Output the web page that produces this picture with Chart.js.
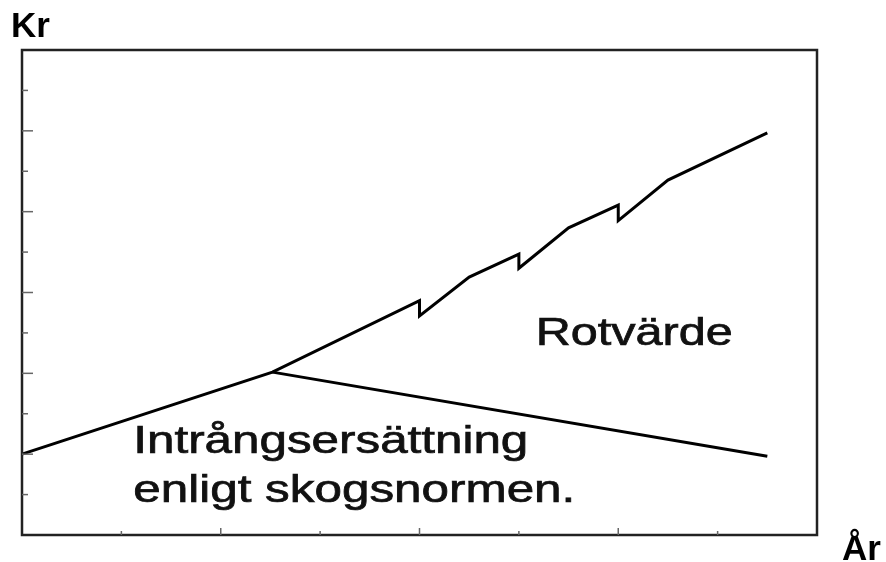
<!DOCTYPE html>
<html>
<head>
<meta charset="utf-8">
<script src="https://cdn.jsdelivr.net/npm/chart.js@4"></script>
<style>
  html, body { margin: 0; padding: 0; background: #fff; }
  #wrap { width: 886px; height: 562px; }
</style>
</head>
<body>
<div id="wrap"><canvas id="chart"></canvas></div>
<script>
// Rotvärde (upper line, with saw-tooth drops)
const rotX = [0, 2.52, 4.0, 4.0, 4.5, 5.0, 5.0, 5.5, 6.0, 6.0, 6.5, 7.5];
const rotY = [2.0, 4.03, 5.8, 5.42, 6.38, 6.95, 6.6, 7.6, 8.16, 7.78, 8.78, 9.95];
// Intrångsersättning (lower branch)
const intrX = [2.52, 7.5];
const intrY = [4.03, 1.95];

const xMax = 8;
const yMax = 12;

const labels = [
  { lines: ['Rotvärde'], x: 5.17, y: 4.7, width: 197 },
  { lines: ['Intrångsersättning', 'enligt skogsnormen.'], x: 1.12, y: 2.03, width: [395, 442] }
];

function toPoints(xs, ys) {
  return xs.map((x, i) => ({ x: x, y: ys[i] }));
}

const frame = {
  id: 'frame',
  afterDatasetsDraw(chart) {
    const ctx = chart.ctx;
    const a = chart.chartArea;
    const xs = chart.scales.x;
    const ys = chart.scales.y;
    ctx.save();
    ctx.strokeStyle = '#222';
    ctx.lineWidth = 2.5;
    ctx.strokeRect(a.left, a.top, a.right - a.left, a.bottom - a.top);

    // inward ticks
    ctx.lineWidth = 1.5;
    ctx.strokeStyle = '#666';
    for (let i = 1; i < yMax; i++) {
      const py = ys.getPixelForValue(i);
      const len = i % 2 === 0 ? 11 : 6;
      ctx.beginPath();
      ctx.moveTo(a.left, py);
      ctx.lineTo(a.left + len, py);
      ctx.stroke();
    }
    for (let i = 1; i < xMax; i++) {
      const px = xs.getPixelForValue(i);
      const len = i % 2 === 0 ? 7 : 4;
      ctx.beginPath();
      ctx.moveTo(px, a.bottom);
      ctx.lineTo(px, a.bottom - len);
      ctx.stroke();
    }

    // in-chart labels, stretched horizontally like the original
    ctx.fillStyle = '#111';
    ctx.strokeStyle = '#111';
    ctx.lineWidth = 0.7;
    ctx.font = '38px "Liberation Sans", Arial, sans-serif';
    ctx.textBaseline = 'alphabetic';
    ctx.textAlign = 'left';
    labels.forEach(lb => {
      const px = xs.getPixelForValue(lb.x);
      const py = ys.getPixelForValue(lb.y);
      lb.lines.forEach((t, k) => {
        const w = Array.isArray(lb.width) ? lb.width[k] : lb.width;
        const sx = w / ctx.measureText(t).width;
        ctx.save();
        ctx.translate(px, py + k * 49);
        ctx.scale(sx, 1);
        ctx.fillText(t, 0, 0);
        ctx.strokeText(t, 0, 0);
        ctx.restore();
      });
    });

    // axis titles
    ctx.fillStyle = '#000';
    ctx.font = 'bold 35px "Liberation Sans", Arial, sans-serif';
    ctx.fillText('Kr', 11, a.top - 13);
    ctx.fillText('År', a.right + 25, a.bottom + 25);
    ctx.restore();
  }
};

new Chart(document.getElementById('chart'), {
  type: 'scatter',
  data: {
    datasets: [
      {
        label: 'Rotvärde',
        data: toPoints(rotX, rotY),
        showLine: true,
        borderColor: '#000',
        borderWidth: 3,
        pointRadius: 0,
        tension: 0,
        borderJoinStyle: 'miter',
        clip: false
      },
      {
        label: 'Intrångsersättning enligt skogsnormen',
        data: toPoints(intrX, intrY),
        showLine: true,
        borderColor: '#000',
        borderWidth: 3,
        pointRadius: 0,
        tension: 0,
        clip: false
      }
    ]
  },
  options: {
    responsive: true,
    maintainAspectRatio: false,
    animation: false,
    layout: { padding: { left: 22, top: 50, right: 69, bottom: 27 } },
    plugins: {
      legend: { display: false },
      tooltip: { enabled: false }
    },
    scales: {
      x: { type: 'linear', display: false, min: 0, max: xMax },
      y: { type: 'linear', display: false, min: 0, max: yMax }
    }
  },
  plugins: [frame]
});
</script>
</body>
</html>
